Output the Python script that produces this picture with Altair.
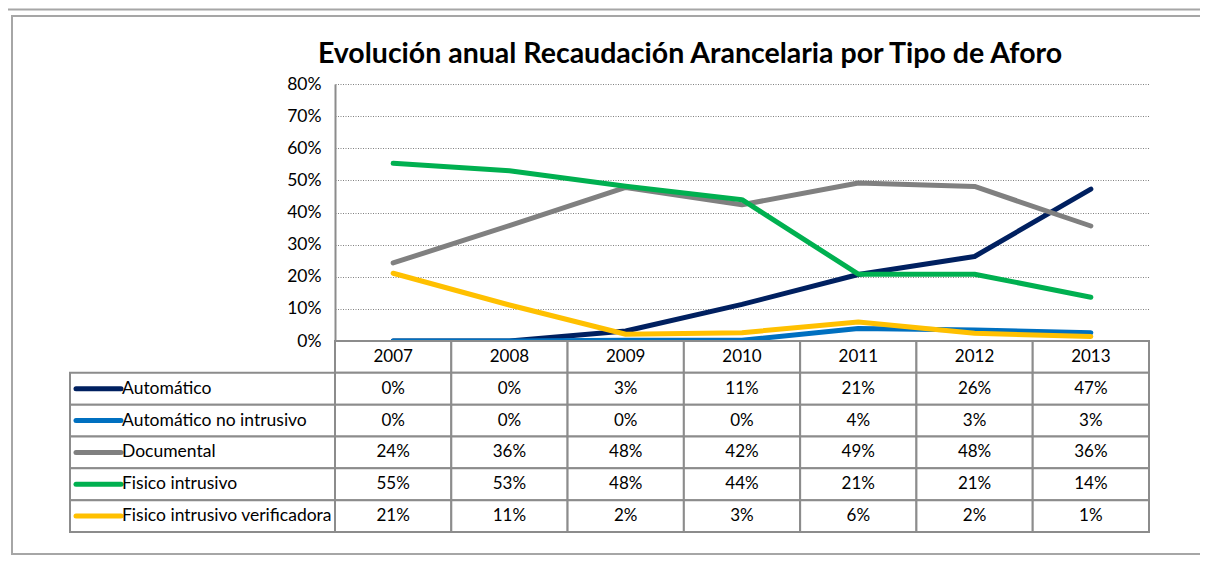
import altair as alt
import pandas as pd

TITLE = "Evolución anual Recaudación Arancelaria por Tipo de Aforo"
years = ["2007", "2008", "2009", "2010", "2011", "2012", "2013"]
series = ["Automático", "Automático no intrusivo", "Documental",
          "Fisico intrusivo", "Fisico intrusivo verificadora"]
colors = ["#002060", "#0070C0", "#808080", "#00B050", "#FFC000"]

# percentages
automatico = [0.0, 0.0, 3.1, 11.4, 20.7, 26.3, 47.3]
automatico_no_intrusivo = [0.0, 0.0, 0.2, 0.2, 3.9, 3.4, 2.6]
documental = [24.3, 35.9, 47.8, 42.4, 49.2, 48.1, 35.8]
fisico_intrusivo = [55.3, 53.0, 48.2, 44.0, 20.8, 20.8, 13.6]
fisico_verificadora = [21.1, 11.2, 2.1, 2.6, 5.9, 2.4, 1.4]
all_values = [automatico, automatico_no_intrusivo, documental,
              fisico_intrusivo, fisico_verificadora]

y_ticks = [0, 0.1, 0.2, 0.3, 0.4, 0.5, 0.6, 0.7, 0.8]

FONT = "Lato"
GRID = "#8c8c8c"

recs = []
for si, (name, vals) in enumerate(zip(series, all_values)):
    for ci, (yr, v) in enumerate(zip(years, vals)):
        recs.append({"series": name, "year": yr, "col": ci, "row": si + 1,
                     "frac": v / 100.0})
long_df = pd.DataFrame(recs)

cells = []
for ci, yr in enumerate(years):
    for r in range(len(series) + 1):
        cells.append({"col": ci, "row": r})
cells_df = pd.DataFrame(cells)
header_df = pd.DataFrame({"year": years, "col": list(range(len(years))), "row": 0})
label_df = pd.DataFrame({"series": series, "row": list(range(1, len(series) + 1))})
title_df = pd.DataFrame({"t": [TITLE]})

xscale = alt.Scale(domain=[0, len(years)], nice=False, zero=False)
tscale = alt.Scale(domain=[0, len(series) + 1], range=[257, 448], nice=False, zero=False)
cscale = alt.Scale(domain=series, range=colors)

frame = alt.Chart(pd.DataFrame({"a": [0]})).mark_rect(
    fill=None, stroke="#a6a6a6", strokeWidth=2
)
outer = frame.encode(x=alt.value(-329), x2=alt.value(900), y=alt.value(-74.5), y2=alt.value(520))
inner = frame.encode(x=alt.value(-323), x2=alt.value(900), y=alt.value(-68), y2=alt.value(470))

title = alt.Chart(title_df).mark_text(
    font=FONT, fontSize=28.5, fontWeight="bold", color="#000000",
    align="center", baseline="alphabetic"
).encode(x=alt.value(355), y=alt.value(-21), text="t:N")

lines = alt.Chart(long_df).transform_calculate(
    xc="datum.col + 0.5"
).mark_line(strokeWidth=5, strokeCap="round", strokeJoin="round").encode(
    x=alt.X("xc:Q", scale=xscale, axis=None),
    y=alt.Y("frac:Q",
            scale=alt.Scale(domain=[0, 0.8], range=[257, 0], nice=False, zero=False),
            axis=alt.Axis(format=".0%", values=y_ticks, title=None, grid=True,
                          gridDash=[1, 1.5], gridColor="#808080", gridWidth=1,
                          domainColor=GRID, domainWidth=2, ticks=False,
                          labelPadding=14, labelFont=FONT, labelFontSize=17.5,
                          labelColor="#000000")),
    color=alt.Color("series:N", scale=cscale, legend=None),
)

rects = alt.Chart(cells_df).transform_calculate(
    x0="datum.col", x1="datum.col + 1", r0="datum.row", r1="datum.row + 1"
).mark_rect(fill="white", stroke=GRID, strokeWidth=2).encode(
    x=alt.X("x0:Q", scale=xscale, axis=None), x2="x1:Q",
    y=alt.Y("r0:Q", scale=tscale, axis=None), y2="r1:Q",
)

label_rects = alt.Chart(label_df).transform_calculate(
    r0="datum.row", r1="datum.row + 1"
).mark_rect(fill="white", stroke=GRID, strokeWidth=2).encode(
    x=alt.value(-265), x2=alt.value(0),
    y=alt.Y("r0:Q", scale=tscale, axis=None), y2="r1:Q",
)

header_text = alt.Chart(header_df).transform_calculate(
    xc="datum.col + 0.5", rc="datum.row + 0.5"
).mark_text(font=FONT, fontSize=17, color="#000000", baseline="middle").encode(
    x=alt.X("xc:Q", scale=xscale, axis=None),
    y=alt.Y("rc:Q", scale=tscale, axis=None),
    text="year:N",
)

value_text = alt.Chart(long_df).transform_calculate(
    xc="datum.col + 0.5", rc="datum.row + 0.5"
).mark_text(font=FONT, fontSize=17, color="#000000", baseline="middle").encode(
    x=alt.X("xc:Q", scale=xscale, axis=None),
    y=alt.Y("rc:Q", scale=tscale, axis=None),
    text=alt.Text("frac:Q", format=".0%"),
)

swatches = alt.Chart(label_df).transform_calculate(
    rc="datum.row + 0.5"
).mark_rule(strokeWidth=5, strokeCap="round").encode(
    x=alt.value(-259), x2=alt.value(-214),
    y=alt.Y("rc:Q", scale=tscale, axis=None),
    color=alt.Color("series:N", scale=cscale, legend=None),
)

label_text = alt.Chart(label_df).transform_calculate(
    rc="datum.row + 0.5"
).mark_text(font=FONT, fontSize=17.5, color="#000000", baseline="middle", align="left").encode(
    x=alt.value(-213),
    y=alt.Y("rc:Q", scale=tscale, axis=None),
    text="series:N",
)

chart = alt.layer(
    outer, inner, title, lines, rects, label_rects, header_text, value_text, swatches, label_text
).resolve_scale(y="independent").properties(
    width=814,
    height=448,
    autosize=alt.AutoSizeParams(type="none"),
    padding={"left": 327, "top": 76, "right": 51, "bottom": 23},
).configure_view(stroke=None)

chart.save("out.html", embed_options={"renderer": "svg", "actions": False})
